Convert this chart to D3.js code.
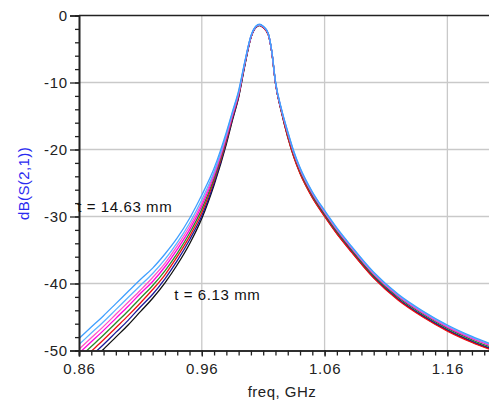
<!DOCTYPE html>
<html><head><meta charset="utf-8">
<script src="https://cdn.jsdelivr.net/npm/d3@7"></script>
<style>
html,body{margin:0;padding:0;background:#fff;}
svg{display:block;}
text{font-family:"Liberation Sans",Arial,sans-serif;}
</style></head>
<body>
<svg id="chart" width="489" height="410"></svg>
<script>
// ---- data ----
const freq = [0.86,0.87,0.88,0.89,0.90,0.91,0.92,0.93,0.94,0.95,0.96,0.97,0.98,0.985,0.99,0.995,1.000,1.004,1.007,1.010,1.014,1.017,1.020,1.025,1.030,1.035,1.04,1.05,1.06,1.07,1.08,1.10,1.12,1.14,1.16,1.18,1.20];

const t1463 = [-48.2,-46.5,-44.8,-43.0,-41.2,-39.4,-37.7,-35.6,-33.2,-30.3,-26.8,-22.8,-17.4,-14.3,-11.2,-6.9,-3.0,-1.6,-1.3,-1.6,-2.6,-5.3,-9.8,-14.0,-17.3,-20.3,-22.7,-26.3,-29.1,-31.7,-34.0,-38.3,-41.6,-44.1,-46.2,-47.9,-49.3];
const t1342 = [-49.1,-47.4,-45.7,-43.9,-42.1,-40.3,-38.5,-36.4,-33.9,-31.0,-27.5,-23.3,-17.7,-14.5,-11.4,-7.0,-3.1,-1.6,-1.4,-1.6,-2.6,-5.3,-9.9,-14.1,-17.4,-20.4,-22.8,-26.4,-29.2,-31.8,-34.1,-38.4,-41.7,-44.2,-46.3,-48.0,-49.4];
const t1220 = [-49.8,-48.1,-46.4,-44.6,-42.8,-41.0,-39.1,-37.0,-34.4,-31.5,-28.0,-23.6,-18.0,-14.7,-11.6,-7.1,-3.1,-1.7,-1.4,-1.7,-2.7,-5.4,-9.9,-14.2,-17.5,-20.5,-22.9,-26.5,-29.3,-31.9,-34.2,-38.5,-41.8,-44.3,-46.4,-48.1,-49.5];
const t1099 = [-50.4,-48.7,-47.0,-45.2,-43.4,-41.5,-39.7,-37.5,-34.9,-32.0,-28.4,-23.9,-18.2,-14.9,-11.7,-7.1,-3.2,-1.7,-1.4,-1.7,-2.7,-5.4,-10.0,-14.2,-17.6,-20.6,-23.0,-26.6,-29.4,-32.0,-34.3,-38.6,-41.9,-44.4,-46.5,-48.2,-49.6];
const t978  = [-51.1,-49.4,-47.7,-45.9,-44.1,-42.2,-40.3,-38.1,-35.5,-32.5,-28.9,-24.3,-18.4,-15.0,-11.8,-7.2,-3.2,-1.7,-1.4,-1.7,-2.7,-5.4,-10.0,-14.3,-17.8,-20.8,-23.2,-26.8,-29.6,-32.2,-34.5,-38.8,-42.1,-44.6,-46.7,-48.4,-49.8];
const t856  = [-51.8,-50.1,-48.4,-46.6,-44.8,-42.9,-40.9,-38.7,-36.0,-33.0,-29.4,-24.6,-18.7,-15.2,-12.0,-7.3,-3.3,-1.7,-1.4,-1.8,-2.8,-5.5,-10.1,-14.5,-18.2,-21.2,-23.6,-27.2,-30.0,-32.6,-34.9,-39.2,-42.5,-45.0,-47.1,-48.8,-50.2];
const t735  = [-52.5,-50.8,-49.1,-47.3,-45.5,-43.5,-41.6,-39.3,-36.6,-33.5,-29.9,-25.0,-18.9,-15.4,-12.1,-7.4,-3.3,-1.7,-1.4,-1.7,-2.7,-5.5,-10.1,-14.4,-18.0,-21.0,-23.4,-27.0,-29.8,-32.4,-34.7,-39.0,-42.3,-44.8,-46.9,-48.6,-50.0];
const t613  = [-53.2,-51.5,-49.8,-48.0,-46.2,-44.2,-42.2,-39.9,-37.2,-34.1,-30.3,-25.3,-19.2,-15.6,-12.2,-7.5,-3.3,-1.8,-1.5,-1.8,-2.8,-5.5,-10.1,-14.5,-18.1,-21.1,-23.5,-27.1,-29.9,-32.5,-34.8,-39.1,-42.4,-44.9,-47.0,-48.7,-50.1];

const seriesNames = ["t613","t735","t856","t978","t1099","t1220","t1342","t1463"];
const seriesValues = [t613,t735,t856,t978,t1099,t1220,t1342,t1463];
const seriesColors = ["#111111","#1a1a9a","#ee1111","#2a8a2a","#ff00dd","#ff55c8","#5cb4ff","#3f9fff"];

const yMajor = [-50,-40,-30,-20,-10,0];
const yMinor = d3.range(-50, 0.1, 2);
const xMajor = [0.86,0.96,1.06,1.16];
const xMinor = d3.range(0, 35).map(i => +(0.86 + i*0.01).toFixed(2));

const labels = [
  {text:"t = 14.63 mm", f:0.8585, v:-29.4},
  {text:"t = 6.13 mm", f:0.9375, v:-42.5}
];

// ---- drawing ----
const svg = d3.select("#chart");
const x = d3.scaleLinear().domain([0.86, 1.20]).range([79, 496.5]);
const y = d3.scaleLinear().domain([-50, 0]).range([350.5, 15.5]);
const pL = x.range()[0], pR = x.range()[1], pT = y.range()[1], pB = y.range()[0];

svg.append("defs").append("clipPath").attr("id","plotclip")
  .append("rect").attr("x",pL).attr("y",pT).attr("width",pR-pL).attr("height",pB-pT);

// grid
const grid = svg.append("g").attr("stroke","#c9c9c9").attr("stroke-width",1.3);
grid.selectAll("line.v").data(xMajor.slice(1)).join("line").attr("class","v")
  .attr("x1",d=>x(d)).attr("x2",d=>x(d)).attr("y1",pT).attr("y2",pB);
grid.selectAll("line.h").data(yMajor.slice(1,-1)).join("line").attr("class","h")
  .attr("y1",d=>y(d)).attr("y2",d=>y(d)).attr("x1",pL).attr("x2",pR);

// curves
const line = d3.line().x((d,i)=>x(freq[i])).y(d=>y(d)).curve(d3.curveMonotoneX);
const curves = svg.append("g").attr("clip-path","url(#plotclip)");
seriesValues.forEach((vals,k)=>{
  curves.append("path").datum(vals)
    .attr("class", seriesNames[k])
    .attr("fill","none").attr("stroke",seriesColors[k]).attr("stroke-width",1.3)
    .attr("d", line);
});

// axes
const axisColor = "#222";
const yAxisMinor = d3.axisLeft(y).tickValues(yMinor).tickSize(4).tickFormat("");
const yAxisMajor = d3.axisLeft(y).tickValues(yMajor).tickSize(9).tickPadding(2).tickFormat(d=>String(d));
const xAxisMinor = d3.axisBottom(x).tickValues(xMinor).tickSize(5).tickFormat("");
const xAxisMajor = d3.axisBottom(x).tickValues(xMajor).tickSize(6).tickPadding(7).tickFormat(d3.format(".2f"));

function styleAxis(g){
  g.select(".domain").attr("stroke",axisColor).attr("stroke-width",1.6);
  g.selectAll(".tick line").attr("stroke",axisColor).attr("stroke-width",1.3);
  g.selectAll(".tick text").attr("fill","#222").style("font-size","15px")
    .style("font-family","'Liberation Sans',Arial,sans-serif").style("letter-spacing","0.8px");
}
svg.append("g").attr("transform",`translate(${pL},0)`).call(yAxisMinor).call(styleAxis);
svg.append("g").attr("transform",`translate(${pL},0)`).call(yAxisMajor).call(styleAxis);
svg.append("g").attr("transform",`translate(0,${pB})`).call(xAxisMinor).call(styleAxis);
svg.append("g").attr("transform",`translate(0,${pB})`).call(xAxisMajor).call(styleAxis);

// top frame line
svg.append("line").attr("x1",pL).attr("x2",pR).attr("y1",pT).attr("y2",pT)
  .attr("stroke",axisColor).attr("stroke-width",1.6);

// axis titles
svg.append("text").attr("x",282).attr("y",397).attr("text-anchor","middle")
  .attr("fill","#222").style("font-size","15px").style("letter-spacing","0.5px").text("freq, GHz");
svg.append("text").attr("transform","translate(29,183.5) rotate(-90)").attr("text-anchor","middle")
  .attr("fill","#2a2af0").style("font-size","15px").style("letter-spacing","0.4px").text("dB(S(2,1))");

// annotations
svg.selectAll("text.ann").data(labels).join("text").attr("class","ann")
  .attr("x",d=>x(d.f)).attr("y",d=>y(d.v))
  .attr("fill","#111").style("font-size","15px").style("letter-spacing","0.6px")
  .text(d=>d.text);
</script>
</body></html>
